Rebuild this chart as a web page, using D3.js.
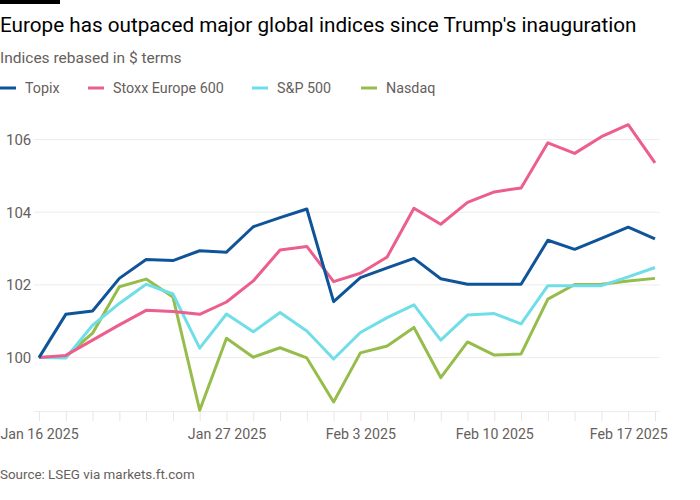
<!DOCTYPE html>
<html>
<head>
<meta charset="utf-8">
<script src="https://cdn.jsdelivr.net/npm/d3@7"></script>
<style>
  html, body { margin: 0; padding: 0; background: #ffffff; }
  svg { display: block; }
  text { font-family: Roboto, "Open Sans", sans-serif; }
</style>
</head>
<body>
<div id="chart"></div>
<script>
const dates = ["2025-01-16","2025-01-17","2025-01-20","2025-01-21","2025-01-22","2025-01-23","2025-01-24",
  "2025-01-27","2025-01-28","2025-01-29","2025-01-30","2025-01-31",
  "2025-02-03","2025-02-04","2025-02-05","2025-02-06","2025-02-07",
  "2025-02-10","2025-02-11","2025-02-12","2025-02-13","2025-02-14",
  "2025-02-17","2025-02-18"];

const topix  = [100, 101.19, 101.28, 102.18, 102.70, 102.67, 102.94, 102.90, 103.60, 103.85, 104.09, 101.54,
  102.20, 102.47, 102.73, 102.17, 102.02, 102.02, 102.02, 103.23, 102.98, 103.28, 103.59, 103.27];
const stoxx  = [100, 100.06, 100.48, 100.90, 101.30, 101.27, 101.19, 101.53, 102.11, 102.96, 103.06, 102.09,
  102.32, 102.77, 104.11, 103.67, 104.27, 104.56, 104.67, 105.91, 105.62, 106.08, 106.41, 105.36];
const sp500  = [100, 99.99, 100.89, 101.49, 102.02, 101.75, 100.26, 101.20, 100.71, 101.24, 100.73, 99.96,
  100.69, 101.10, 101.45, 100.48, 101.17, 101.21, 100.93, 101.98, 101.98, 101.98, 102.22, 102.48];
const nasdaq = [100, 100.03, 100.67, 101.95, 102.16, 101.67, 98.55, 100.53, 100.01, 100.27, 99.99, 98.78,
  100.13, 100.32, 100.83, 99.45, 100.43, 100.07, 100.10, 101.61, 102.01, 102.02, 102.11, 102.18];

const seriesNames  = ["Topix", "Stoxx Europe 600", "S&P 500", "Nasdaq"];
const seriesColors = ["#0f5499", "#eb5e8d", "#70dee8", "#96bc4b"];
const seriesValues = [topix, stoxx, sp500, nasdaq];

const yTicks = [100, 102, 104, 106];
const xTickLabels = {"2025-01-16": "Jan 16 2025", "2025-01-27": "Jan 27 2025", "2025-02-03": "Feb 3 2025",
  "2025-02-10": "Feb 10 2025", "2025-02-17": "Feb 17 2025"};

const title = "Europe has outpaced major global indices since Trump's inauguration";
const subtitle = "Indices rebased in $ terms";
const source = "Source: LSEG via markets.ft.com";

const W = 700, H = 500;
const svg = d3.select("#chart").append("svg").attr("width", W).attr("height", H);

// FT top bar
svg.append("rect").attr("x", 0).attr("y", 0).attr("width", 60).attr("height", 4).attr("fill", "#000");

svg.append("text").attr("x", 0).attr("y", 32).attr("font-size", 20.7).attr("fill", "#000").text(title);
svg.append("text").attr("x", 0).attr("y", 63).attr("font-size", 15.5).attr("fill", "#66605c").text(subtitle);

// legend
const legendX = [0, 88, 252, 361];
seriesNames.forEach((n, i) => {
  const g = svg.append("g").attr("transform", `translate(${legendX[i]},0)`);
  g.append("line").attr("x1", 0).attr("x2", 16).attr("y1", 88).attr("y2", 88)
    .attr("stroke", seriesColors[i]).attr("stroke-width", 3);
  g.append("text").attr("x", 25).attr("y", 93).attr("font-size", 14.3).attr("fill", "#66605c").text(n);
});

const x = d3.scalePoint().domain(dates).range([39, 655]);
const y = d3.scaleLinear().domain([98.53, 106.5]).range([411, 121.4]);

// gridlines
svg.append("g").selectAll("line").data(yTicks).join("line")
  .attr("x1", 34).attr("x2", 660).attr("y1", d => y(d)).attr("y2", d => y(d))
  .attr("stroke", "#efedeb").attr("stroke-width", 1);
svg.append("g").selectAll("text").data(yTicks).join("text")
  .attr("x", 6).attr("y", d => y(d)).attr("dy", "0.36em")
  .attr("font-size", 15).attr("fill", "#66605c").text(d => d);

// x axis
const xAxis = d3.axisBottom(x).tickSize(10).tickFormat(d => xTickLabels[d] || "");
const gx = svg.append("g").attr("transform", `translate(0,${y(98.53)})`).call(xAxis);
gx.select(".domain").attr("d", "M34,0.5H660").attr("stroke", "#efedeb");
gx.selectAll(".tick line").attr("stroke", "#e9e6e3");
gx.selectAll(".tick text").attr("font-size", 14.2).attr("fill", "#66605c")
  .attr("font-family", "Roboto, sans-serif").attr("dy", "0").attr("y", 28);

// lines
const line = d3.line().x((d, i) => x(dates[i])).y(d => y(d));
[3, 2, 1, 0].forEach(i => {
  svg.append("path").datum(seriesValues[i]).attr("d", line)
    .attr("fill", "none").attr("stroke", seriesColors[i]).attr("stroke-width", 3)
    .attr("stroke-linejoin", "round");
});

svg.append("text").attr("x", 0).attr("y", 479).attr("font-size", 13.4).attr("fill", "#66605c").text(source);
</script>
</body>
</html>
